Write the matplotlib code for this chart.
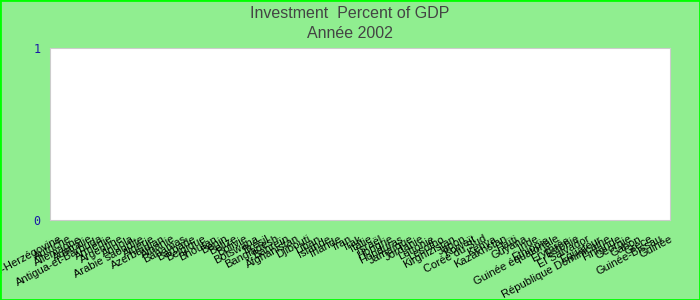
import matplotlib.pyplot as plt

plt.rcParams['font.family'] = ['Liberation Sans', 'DejaVu Sans']

# categories on the x axis (no values plotted in the reference)
countries = [
    "Bosnie-Herzégovine", "Autriche", "Allemagne", "Australie", "Antigua-et-Barbuda",
    "Arménie", "Argentine", "Angola", "Arabie saoudite", "Algérie", "Azerbaïdjan",
    "Albanie", "Bahamas", "Barbade", "Belgique", "Bhoutan", "Bénin", "Belize",
    "Bolivie", "Botswana", "Brésil", "Bangladesh", "Bahreïn", "Afghanistan",
    "Djibouti", "Liban", "Islande", "Irlande", "Iran", "Irak", "Italie", "Israël",
    "Hongrie", "Honduras", "Jamaïque", "Jordanie", "Lettonie", "Lesotho",
    "Kirghizistan", "Japon", "Koweït", "Corée du Sud", "Kenya", "Kazakhstan",
    "Haïti", "Guyana", "Inde", "Éthiopie", "Guinée équatoriale", "Érythrée",
    "Estonie", "El Salvador", "Équateur", "République Dominicaine", "Finlande",
    "Géorgie", "Gabon", "Grèce", "Guinée-Bissau", "Guinée",
]
y_ticks = [0, 1]

bg = "#90ee90"
fig = plt.figure(figsize=(7, 3), dpi=100, facecolor=bg)
ax = fig.add_axes([50 / 700, 80 / 300, 620 / 700, 172 / 300])
ax.set_facecolor("white")

x = list(range(len(countries)))
ax.set_xlim(-0.8, len(countries) - 1.2)
ax.set_ylim(0, 1)
ax.set_xticks(x)
ax.set_xticklabels(countries, rotation=28, ha="right", rotation_mode="anchor",
                   fontsize=8, color="#000000")
ax.set_yticks(y_ticks)
ax.set_yticklabels([str(v) for v in y_ticks], family="DejaVu Sans Mono",
                   fontsize=8.5, color="#1a1aa6")
ax.tick_params(axis="both", length=0)
ax.tick_params(axis="y", pad=7)
ax.tick_params(axis="x", pad=10)
for s in ax.spines.values():
    s.set_color("#cccccc")

fig.suptitle("Investment  Percent of GDP\nAnnée 2002", y=0.98, fontsize=11.5,
             color="#444444", linespacing=1.45)

# bright green frame around the whole image
fig.patches.append(plt.Rectangle((0, 0), 1, 1, transform=fig.transFigure,
                                 fill=False, edgecolor="#00ff00", linewidth=2))

fig.savefig("out.png", dpi=100, facecolor=bg)
